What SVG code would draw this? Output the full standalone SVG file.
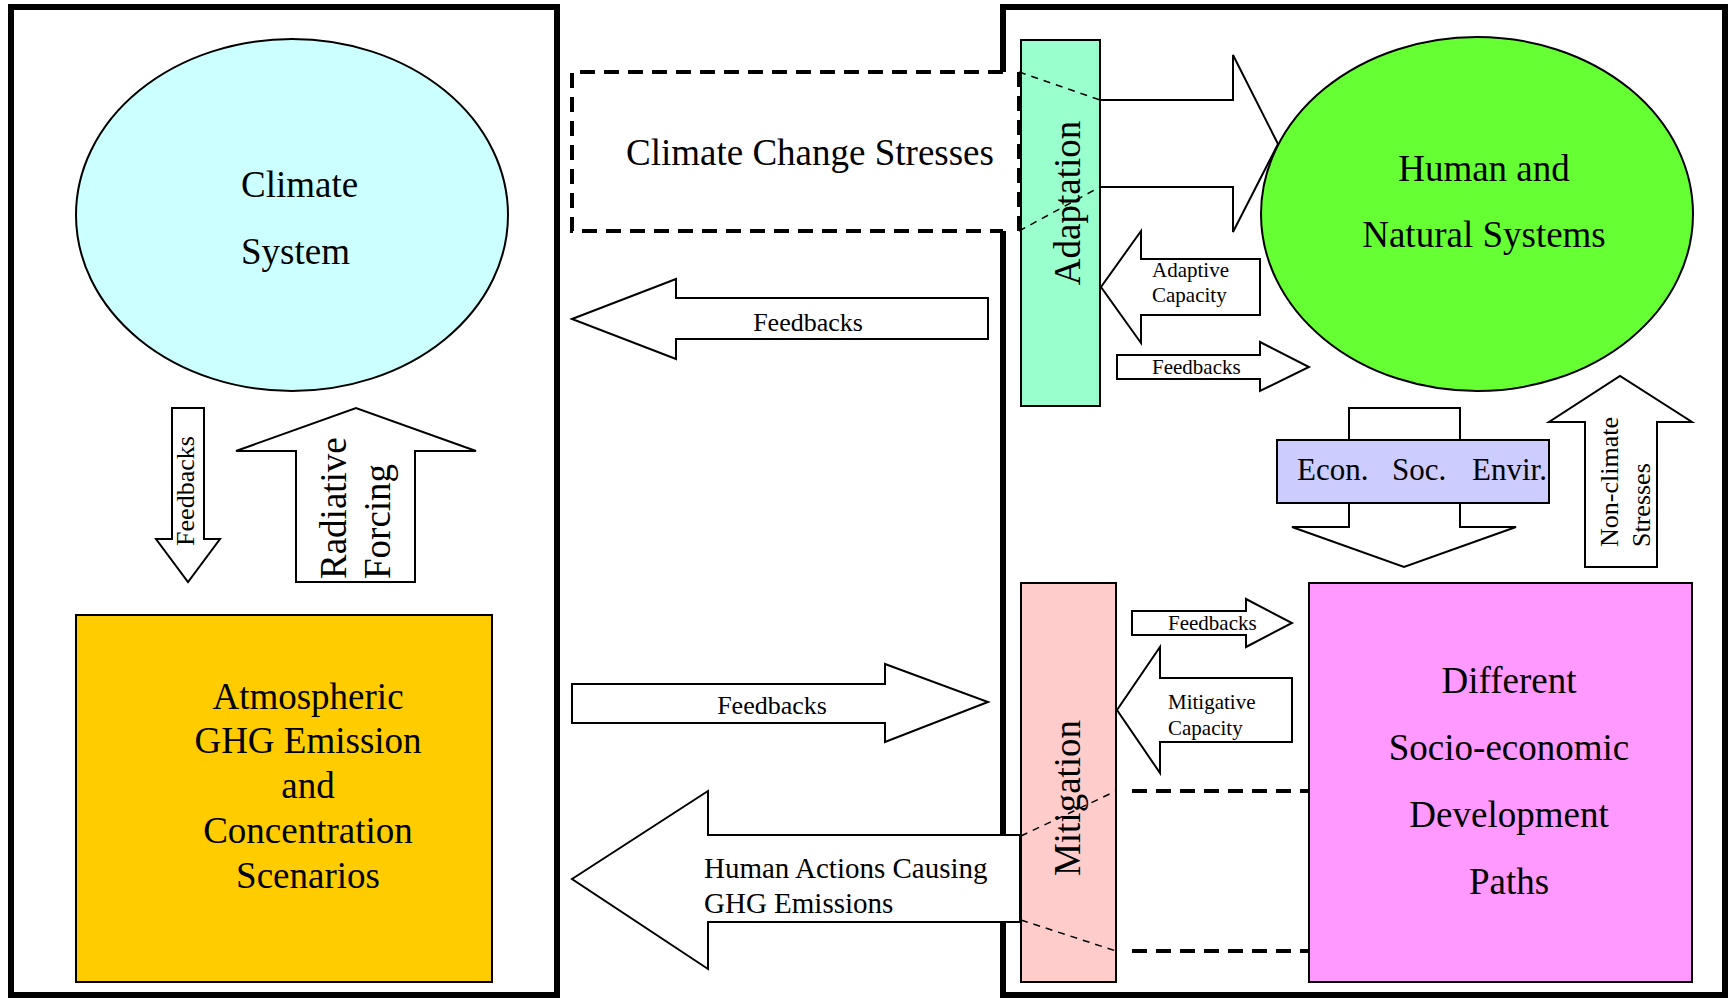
<svg xmlns="http://www.w3.org/2000/svg" width="1732" height="1000" viewBox="0 0 1732 1000">
<style>
text{font-family:"Liberation Serif","Times New Roman",serif;fill:#000}
.big{font-size:37px}
.mid{font-size:29px}
.fb{font-size:26px}
.sm{font-size:21px}
.shape{stroke:#000;stroke-width:2}
.arrow{fill:#fff;stroke:#000;stroke-width:2;stroke-linejoin:miter}
.panel{fill:none;stroke:#000;stroke-width:6}
.thickdash{fill:none;stroke:#000;stroke-width:4;stroke-dasharray:15 9}
.thindash{fill:none;stroke:#000;stroke-width:1.5;stroke-dasharray:7 6}
</style>
<rect width="1732" height="1000" fill="#fff"/>

<g id="left-panel">
<rect class="panel" x="11" y="7" width="546" height="988"/>
</g>
<g id="right-panel">
<path class="panel" d="M1003,72 V7 H1725 V995 H1003 V922 M1003,835 V231"/>
</g>

<g id="connectors">
<g id="arrow-feedbacks-down">
<polygon class="arrow" points="172,408 204,408 204,539 220,539 188,582 156,539 172,539"/>
<text class="fb" transform="translate(194,491) rotate(-90)" text-anchor="middle">Feedbacks</text>
</g>
<g id="arrow-radiative-forcing">
<polygon class="arrow" points="296,582 296,451 236,451 356,408 476,451 415,451 415,582"/>
<text class="big" transform="translate(346,579) rotate(-90)">Radiative</text>
<text class="big" transform="translate(390,579) rotate(-90)">Forcing</text>
</g>
<g id="arrow-feedbacks-upper-mid">
<polygon class="arrow" points="572,319 676,279 676,298 988,298 988,339 676,339 676,359"/>
<text class="fb" x="808" y="331" text-anchor="middle">Feedbacks</text>
</g>
<g id="arrow-feedbacks-lower-mid">
<polygon class="arrow" points="572,684 885,684 885,664 988,702 885,742 885,723 572,723"/>
<text class="fb" x="772" y="714" text-anchor="middle">Feedbacks</text>
</g>
<g id="arrow-human-actions">
<polygon class="arrow" points="572,879 708,791 708,835 1020,835 1020,922 708,922 708,969"/>
<text class="mid" x="704" y="878">Human Actions Causing</text>
<text class="mid" x="704" y="913">GHG Emissions</text>
</g>
<g id="arrow-stress-to-systems">
<polygon class="arrow" points="1100,100 1233,100 1233,55 1278,144 1233,232 1233,187 1100,187"/>
</g>
<g id="arrow-adaptive-capacity">
<polygon class="arrow" points="1101,287 1141,231 1141,259 1260,259 1260,315 1141,315 1141,343"/>
<text class="sm" x="1152" y="277">Adaptive</text>
<text class="sm" x="1152" y="302">Capacity</text>
</g>
<g id="arrow-feedbacks-adapt">
<polygon class="arrow" points="1117,355 1260,355 1260,342 1309,367 1260,391 1260,379 1117,379"/>
<text class="sm" x="1152" y="374">Feedbacks</text>
</g>
<g id="arrow-econ-down">
<polygon class="arrow" points="1349,408 1460,408 1460,527 1516,527 1404,567 1292,527 1349,527"/>
</g>
<g id="arrow-non-climate">
<polygon class="arrow" points="1585,567 1585,422 1549,422 1620,376 1692,422 1657,422 1657,567"/>
<text class="fb" transform="translate(1618,547) rotate(-90)">Non-climate</text>
<text class="fb" transform="translate(1650,547) rotate(-90)">Stresses</text>
</g>
<g id="arrow-feedbacks-mitig">
<polygon class="arrow" points="1132,611 1246,611 1246,599 1292,623 1246,647 1246,635 1132,635"/>
<text class="sm" x="1168" y="630">Feedbacks</text>
</g>
<g id="arrow-mitigative-capacity">
<polygon class="arrow" points="1117,710 1160,647 1160,678 1292,678 1292,742 1160,742 1160,773"/>
<text class="sm" x="1168" y="709">Mitigative</text>
<text class="sm" x="1168" y="735">Capacity</text>
</g>
<g id="dashed-links">
<line class="thickdash" x1="1132" y1="791" x2="1309" y2="791"/>
<line class="thickdash" x1="1132" y1="951" x2="1309" y2="951"/>
</g>
</g>

<g id="climate-system">
<ellipse class="shape" cx="292" cy="215" rx="216" ry="176" fill="#CCFFFF"/>
<text class="big" x="241" y="197">Climate</text>
<text class="big" x="241" y="264">System</text>
</g>

<g id="ghg-scenarios">
<rect class="shape" x="76" y="615" width="416" height="367" fill="#FFCC00"/>
<text class="big" text-anchor="middle" x="308" y="709">Atmospheric</text>
<text class="big" text-anchor="middle" x="308" y="753">GHG Emission</text>
<text class="big" text-anchor="middle" x="308" y="798">and</text>
<text class="big" text-anchor="middle" x="308" y="843">Concentration</text>
<text class="big" text-anchor="middle" x="308" y="888">Scenarios</text>
</g>

<g id="climate-change-stresses">
<path class="thickdash" d="M1003,72 H572 V231 H1003"/>
<line class="thickdash" x1="1019" y1="72" x2="1019" y2="231"/>
<text class="big" x="810" y="165" text-anchor="middle">Climate Change Stresses</text>
</g>

<g id="adaptation">
<rect class="shape" x="1021" y="40" width="79" height="366" fill="#99FFCC"/>
<text class="big" transform="translate(1080,203) rotate(-90)" text-anchor="middle">Adaptation</text>
<line class="thindash" x1="1019" y1="72" x2="1100" y2="100"/>
<line class="thindash" x1="1019" y1="231" x2="1100" y2="187"/>
</g>

<g id="human-natural-systems">
<ellipse class="shape" cx="1477" cy="214" rx="216" ry="177" fill="#66FF33"/>
<text class="big" x="1484" y="181" text-anchor="middle">Human and</text>
<text class="big" x="1484" y="247" text-anchor="middle">Natural Systems</text>
</g>

<g id="econ-soc-envir">
<rect class="shape" x="1277" y="440" width="272" height="63" fill="#CCCCFF"/>
<text style="font-size:31px" x="1297" y="480">Econ.</text>
<text style="font-size:31px" x="1392" y="480">Soc.</text>
<text style="font-size:31px" x="1472" y="480">Envir.</text>
</g>

<g id="mitigation">
<rect class="shape" x="1021" y="583" width="95" height="399" fill="#FFCCCC"/>
<text class="big" transform="translate(1080,798) rotate(-90)" text-anchor="middle">Mitigation</text>
<line class="thindash" x1="1021" y1="836" x2="1116" y2="791"/>
<line class="thindash" x1="1021" y1="920" x2="1116" y2="951"/>
</g>

<g id="development-paths">
<rect class="shape" x="1309" y="583" width="383" height="399" fill="#FF99FF"/>
<text class="big" x="1509" y="693" text-anchor="middle">Different</text>
<text class="big" x="1509" y="760" text-anchor="middle">Socio-economic</text>
<text class="big" x="1509" y="827" text-anchor="middle">Development</text>
<text class="big" x="1509" y="894" text-anchor="middle">Paths</text>
</g>
</svg>
